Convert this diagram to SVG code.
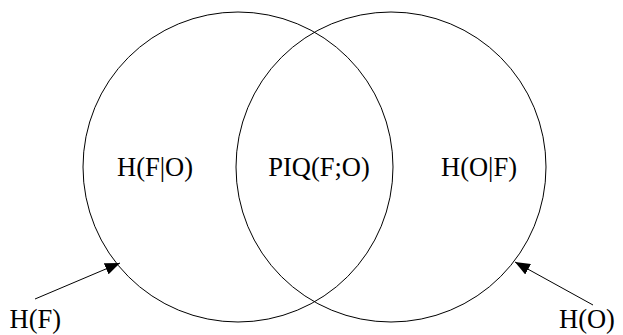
<svg xmlns="http://www.w3.org/2000/svg" width="623" height="335" viewBox="0 0 623 335">
<style>
.c{fill:none;stroke:#000;stroke-width:1}
.t{font-family:"Liberation Serif","Times New Roman",serif;font-size:26.5px;fill:#000}
.a{stroke:#000;stroke-width:1;fill:none}
</style>
<defs>
<marker id="ah" markerWidth="16" markerHeight="12" refX="15" refY="6" orient="auto" markerUnits="userSpaceOnUse">
<path d="M0,0 L15,6 L0,12 Z" fill="#000"/>
</marker>
</defs>
<rect width="623" height="335" fill="#fff"/>
<g id="circleF"><circle class="c" cx="238" cy="167" r="155"/></g>
<g id="circleO"><circle class="c" cx="391" cy="167" r="155"/></g>
<g id="HFgivenO"><text class="t" x="155" y="176" text-anchor="middle">H(F|O)</text></g>
<g id="PIQ"><text class="t" x="319" y="176" text-anchor="middle">PIQ(F;O)</text></g>
<g id="HOgivenF"><text class="t" x="479" y="176" text-anchor="middle">H(O|F)</text></g>
<g id="HF"><text class="t" x="9.5" y="328">H(F)</text></g>
<g id="HO"><text class="t" x="559" y="328">H(O)</text></g>
<g id="connectors">
<line class="a" x1="35" y1="299" x2="120" y2="263" marker-end="url(#ah)"/>
<line class="a" x1="593" y1="305" x2="515" y2="262" marker-end="url(#ah)"/>
</g>
</svg>
